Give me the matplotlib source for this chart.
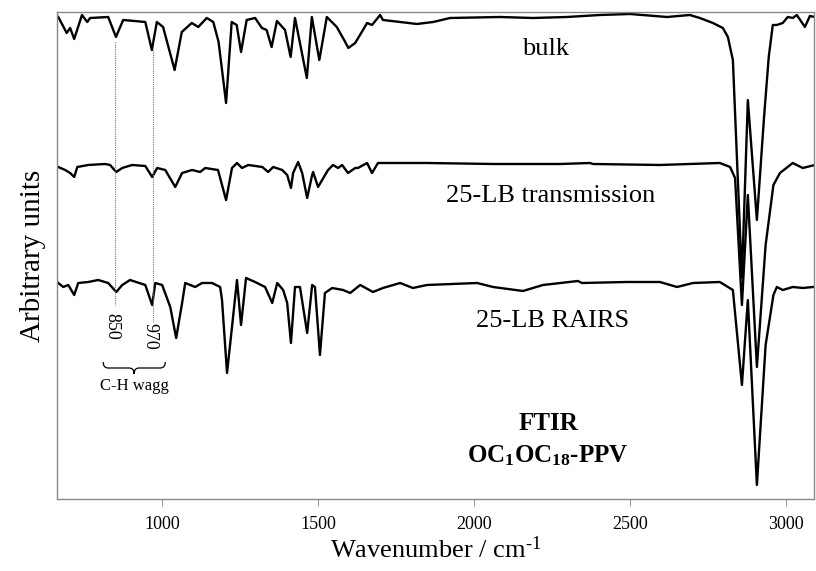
import numpy as np
import matplotlib
matplotlib.use("Agg")
import matplotlib.pyplot as plt
from matplotlib.path import Path
from matplotlib.patches import PathPatch

plt.rcParams["font.family"] = ["Liberation Serif", "DejaVu Serif"]
plt.rcParams["mathtext.fontset"] = "custom"
plt.rcParams["mathtext.rm"] = "Liberation Serif"
plt.rcParams["mathtext.it"] = "Liberation Serif:italic"
plt.rcParams["mathtext.bf"] = "Liberation Serif:bold"

# FTIR spectra of OC1OC18-PPV (wavenumber in cm-1, relative signal in arbitrary units)
bulk_wn = [667, 694, 705, 718, 743, 760, 769, 827, 852, 875, 946, 967, 983, 1003,
           1040, 1063, 1095, 1116, 1143, 1164, 1181, 1205, 1223, 1239, 1253, 1271,
           1298, 1320, 1335, 1351, 1368, 1394, 1412, 1426, 1464, 1480, 1504, 1528,
           1560, 1587, 1597, 1619, 1644, 1657, 1673, 1699, 1708, 1763, 1817, 1869,
           1923, 2083, 2189, 2298, 2404, 2500, 2619, 2692, 2724, 2766, 2798, 2814,
           2830, 2859, 2878, 2907, 2930, 2945, 2958, 2971, 2990, 3006, 3022, 3035,
           3061, 3077, 3093]
bulk_sig = [0, -16, -11, -22, 2, -5, -1, 0, -20, -3, -5, -33, -5, -10,
            -53, -15, -6, -10, -1, -5, -25, -86, -5, -8, -35, -3,
            -1, -11, -13, -30, -4, -13, -40, -1, -61, 0, -43, 0,
            -10, -25, -31, -26, -13, -6, -8, 2, -3, -5, -7, -5,
            -1, 0, -1, 0, 2, 3, 0, 2, -1, -6, -11, -20,
            -43, -261, -83, -203, -100, -40, -8, -8, -6, 0, -1, 2,
            -10, 1, 0]

trans_wn = [667, 689, 705, 718, 728, 763, 817, 833, 853, 872, 904, 946, 968, 984,
            1010, 1042, 1064, 1096, 1122, 1138, 1179, 1205, 1224, 1240, 1256, 1276,
            1321, 1340, 1356, 1385, 1401, 1413, 1420, 1436, 1449, 1465, 1481, 1484,
            1500, 1513, 1532, 1548, 1564, 1577, 1596, 1619, 1628, 1657, 1673, 1692,
            1740, 1849, 2061, 2276, 2372, 2381, 2596, 2788, 2821, 2837, 2859, 2878,
            2907, 2935, 2960, 2981, 3022, 3054, 3093]
trans_sig = [-2, -5, -8, -12, -2, 0, 1, 0, -7, -3, 0, -1, -12, -3,
             -5, -22, -8, -5, -7, -3, -5, -35, -3, 2, -3, 0,
             -2, -7, -2, -5, -10, -23, -8, 3, -8, -33, -10, -7,
             -22, -15, -5, 0, -3, 0, -8, -3, -3, 2, -8, 2,
             2, 2, 1, 1, 2, 1, 0, 2, -2, -13, -140, -30,
             -202, -80, -20, -8, 2, -3, 0]

rairs_wn = [667, 683, 699, 718, 731, 763, 795, 827, 853, 872, 897, 946, 968, 978,
            1000, 1026, 1045, 1064, 1074, 1106, 1128, 1160, 1186, 1192, 1208, 1224,
            1240, 1253, 1269, 1298, 1330, 1353, 1369, 1388, 1401, 1413, 1426, 1442,
            1465, 1481, 1490, 1506, 1522, 1545, 1580, 1603, 1635, 1676, 1708, 1763,
            1804, 1849, 2010, 2061, 2157, 2221, 2333, 2346, 2490, 2596, 2651, 2702,
            2788, 2830, 2859, 2878, 2907, 2935, 2960, 2971, 2990, 3022, 3054, 3087]
rairs_sig = [2, -2, 0, -10, 2, 3, 5, 2, -7, 0, 5, 0, -20, 2,
             0, -22, -53, -18, 2, -2, 2, 2, -2, -15, -88, -42,
             5, -40, 7, 3, -2, -18, 2, -5, -18, -58, -2, -2,
             -48, 0, -2, -70, -8, -3, -5, -8, 0, -7, -3, 2,
             -3, 0, 2, -2, -6, 0, 4, 2, 3, 3, -2, 2,
             3, -5, -100, -15, -200, -60, -10, -2, -5, -2, -3, -2]

labels = ["bulk", "25-LB transmission", "25-LB RAIRS"]
offsets = [-17, -165, -285]
mark_wn = [850, 970]
tick_vals = [1000, 1500, 2000, 2500, 3000]

fig = plt.figure(figsize=(8.16, 5.71), dpi=100)
ax = fig.add_axes([0.0699, 0.1261, 0.9276, 0.8529])

series = [(bulk_wn, bulk_sig), (trans_wn, trans_sig), (rairs_wn, rairs_sig)]
for (wn, sig), off in zip(series, offsets):
    ax.plot(wn, np.asarray(sig) + off, color="black", lw=1.7, solid_joinstyle="round")

# trace labels
ax.text(2228, -55, labels[0], ha="center", va="baseline", fontsize=19)
ax.text(2245, -202, labels[1], ha="center", va="baseline", fontsize=19)
ax.text(2252, -327, labels[2], ha="center", va="baseline", fontsize=19)

# C-H wagging markers
ax.plot([mark_wn[0]] * 2, [-42, -305], color="#777777", lw=0.8, ls=(0, (1, 1)))
ax.plot([mark_wn[1]] * 2, [-50, -322], color="#777777", lw=0.8, ls=(0, (1, 1)))
ax.text(mark_wn[0] - 12, -313, str(mark_wn[0]), rotation=270, ha="center", va="top",
        fontsize=13)
ax.text(mark_wn[1] - 8, -323, str(mark_wn[1]), rotation=270, ha="center", va="top",
        fontsize=13)

brace = Path(
    [(811, -362), (811, -368), (827, -368), (894, -368), (910, -368), (910, -374),
     (910, -368), (926, -368), (994, -368), (1010, -368), (1010, -362)],
    [Path.MOVETO, Path.CURVE3, Path.CURVE3, Path.LINETO, Path.CURVE3, Path.CURVE3,
     Path.CURVE3, Path.CURVE3, Path.LINETO, Path.CURVE3, Path.CURVE3])
ax.add_patch(PathPatch(brace, fill=False, lw=0.9, color="black"))
ax.text(910, -390, "C-H wagg", ha="center", va="baseline", fontsize=12)

ax.text(2240, -430, "FTIR", ha="center", va="baseline", fontsize=18, fontweight="bold")
ax.text(2238, -462, r"OC$_\mathbf{1}$OC$_\mathbf{18}$-PPV", ha="center", va="baseline",
        fontsize=18, fontweight="bold")

ax.set_xlim(663, 3090)
ax.set_ylim(-499, -12)
ax.set_xticks(tick_vals)
ax.set_yticks([])
ax.tick_params(axis="x", direction="out", length=5, width=0.8, color="#999999",
               labelsize=13, pad=7)
for sp in ax.spines.values():
    sp.set_color("#888888")
    sp.set_linewidth(1.0)

ax.set_xlabel("Wavenumber / cm$^{\\mathregular{\u2010}1}$", fontsize=19, labelpad=3)
ax.set_ylabel("Arbitrary units", fontsize=21, labelpad=8)

fig.savefig("out.png", dpi=100)
